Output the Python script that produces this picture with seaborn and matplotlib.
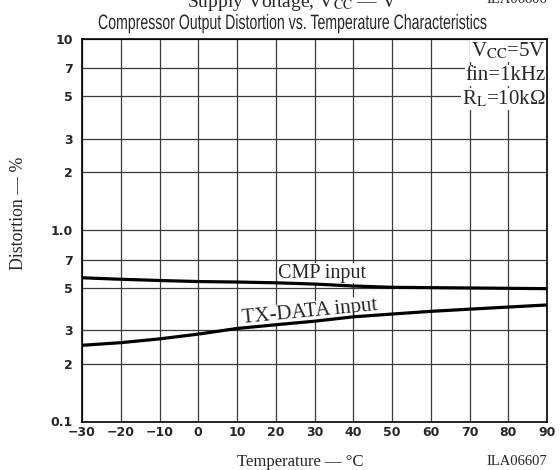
# Compressor output distortion vs temperature (log scale chart)
import pandas as pd
import numpy as np
import seaborn as sb
import matplotlib.pyplot as plt
from matplotlib import patheffects
from matplotlib.transforms import Affine2D

# data
temperature = [-30, -20, -10, 0, 10, 20, 30, 40, 50, 60, 70, 80, 90]
cmp_input = [0.563, 0.553, 0.545, 0.538, 0.535, 0.530, 0.522, 0.510, 0.502, 0.500, 0.498, 0.496, 0.494]
txdata_input = [0.250, 0.258, 0.270, 0.286, 0.306, 0.320, 0.334, 0.352, 0.364, 0.376, 0.386, 0.396, 0.406]

x_ticks = [-30, -20, -10, 0, 10, 20, 30, 40, 50, 60, 70, 80, 90]
y_ticks = [0.1, 0.2, 0.3, 0.5, 0.7, 1.0, 2, 3, 5, 7, 10]
y_labels = ["0.1", "2", "3", "5", "7", "1.0", "2", "3", "5", "7", "10"]

# long table for seaborn
df = pd.DataFrame({
    "temp": temperature * 2,
    "dist": cmp_input + txdata_input,
    "curve": ["CMP input"] * len(temperature) + ["TX-DATA input"] * len(temperature),
})


# stretches glyphs about the text centre / baseline (the original title uses a tall condensed face)
class Stretch(patheffects.AbstractPathEffect):
    def __init__(self, sx, sy):
        super().__init__()
        self.sx = sx
        self.sy = sy

    def draw_path(self, renderer, gc, tpath, affine, rgbFace=None):
        ext = tpath.get_extents()
        cx = (ext.x0 + ext.x1) / 2
        st = Affine2D().translate(-cx, 0).scale(self.sx, self.sy).translate(cx, 0)
        renderer.draw_path(gc, tpath, st + affine, rgbFace)


sb.set_theme(style="white")
plt.rcParams["font.family"] = ["Liberation Sans", "DejaVu Sans"]
plt.rcParams["mathtext.fontset"] = "stix"

fig = plt.figure(figsize=(5.6, 4.7), dpi=100)
ax = fig.add_axes([82 / 560, 1 - 421.5 / 470, 465 / 560, 383 / 470])

sb.lineplot(data=df, x="temp", y="dist", hue="curve",
            palette=["black", "black"], linewidth=2.3, legend=False, ax=ax, zorder=2)

ax.set_yscale("log")
ax.set_xlim(-30, 90)
ax.set_ylim(0.1, 10)
ax.set_xticks(x_ticks)
ax.set_xticklabels([str(t).replace("-", "\u2212") for t in x_ticks])
ax.set_yticks(y_ticks)
ax.set_yticklabels(y_labels)
ax.minorticks_off()
ax.tick_params(length=0, labelsize=9, pad=6.5)
ax.tick_params(axis="x", pad=3)
for lab in ax.get_xticklabels() + ax.get_yticklabels():
    lab.set_family("DejaVu Sans")
    lab.set_fontweight("bold")

# grid
ax.grid(True, which="major", color="#3a3a3a", linewidth=0.9)
for s in ax.spines.values():
    s.set_color("black")
    s.set_linewidth(1.2)

serif = ["Liberation Serif", "DejaVu Serif"]

ax.set_xlabel("Temperature \u2014 \u00b0C", family=serif, fontsize=12)
ax.xaxis.set_label_coords((300 - 82) / 465, (421.5 - 466) / 383)
ax.xaxis.label.set_va("baseline")
ax.set_ylabel("Distortion \u2014 %", family=serif, fontsize=12.8)
ax.yaxis.set_label_coords((27 - 82) / 465, (421.5 - 213) / 383)

# title: 10pt text stretched to the width (390 px) and cap height (15 px) of the original
title = fig.text(293 / 560, 1 - 29 / 470, "Compressor Output Distortion vs. Temperature Characteristics",
                 ha="center", va="baseline", fontsize=10)
fig.canvas.draw()
w = title.get_window_extent().width
title.set_path_effects([Stretch(390 / w, 1.5)])

# cut-off captions from the neighbouring chart
fig.text(292 / 560, 1 - 7 / 470, "Supply Voltage, V$_{\\rm CC}$ \u2014 V",
         ha="center", va="baseline", family=serif, fontsize=14)
fig.text(547 / 560, 1 - 3 / 470, "ILA06606", ha="right", va="baseline", family=serif, fontsize=10.5)
fig.text(547 / 560, 1 - 465 / 470, "ILA06607", ha="right", va="baseline", family=serif, fontsize=10.5)

box = dict(facecolor="white", edgecolor="none", pad=0.5)
ax.text(89.6, 8.6, "V$_{\\rm CC}$=5V", ha="right", va="center", family=serif, fontsize=15,
        bbox=box, zorder=1.8)
ax.text(89.6, 6.4, "fin=1kHz", ha="right", va="center", family=serif, fontsize=15,
        bbox=box, zorder=1.8)
ax.text(89.6, 4.83, "R$_{\\rm L}$=10k\u03a9", ha="right", va="center", family=serif, fontsize=15,
        bbox=box, zorder=1.8)

ax.text(32, 0.596, "CMP input", ha="center", va="center", family=serif, fontsize=14.5,
        bbox=box, zorder=1.8)
ax.text(28.8, 0.374, "TX-DATA input", ha="center", va="center", family=serif, fontsize=15,
        rotation=5.5, bbox=box, zorder=1.8)

fig.savefig("out.png", dpi=100)
